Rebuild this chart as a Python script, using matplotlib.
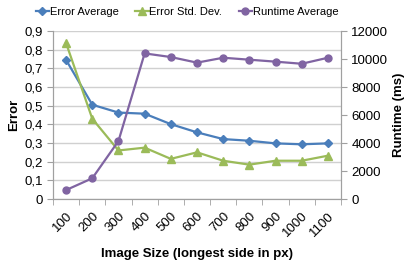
import matplotlib.pyplot as plt
from matplotlib.ticker import FuncFormatter

sizes = ['100', '200', '300', '400', '500', '600', '700', '800', '900', '1000', '1100']
error_avg = [0.745, 0.505, 0.463, 0.457, 0.401, 0.357, 0.321, 0.312, 0.298, 0.293, 0.298]
error_std = [0.835, 0.43, 0.26, 0.275, 0.215, 0.25, 0.205, 0.184, 0.205, 0.205, 0.232]
runtime_avg = [640, 1480, 4140, 10400, 10140, 9740, 10090, 9950, 9810, 9660, 10090]

plt.rcParams['font.family'] = ['Liberation Sans', 'DejaVu Sans']
plt.rcParams['font.size'] = 9.5

def main():
    fig = plt.figure(figsize=(4.11, 2.63), dpi=100)
    ax = fig.add_axes([53 / 411, 1 - 199 / 263, 288 / 411, 168 / 263])
    ax2 = ax.twinx()

    x = list(range(len(sizes)))
    l1, = ax.plot(x, error_avg, color='#4a7ebb', marker='D', markersize=4, lw=1.6, label='Error Average')
    l2, = ax.plot(x, error_std, color='#9bbb59', marker='^', markersize=5.5, lw=1.6, label='Error Std. Dev.')
    l3, = ax2.plot(x, runtime_avg, color='#8064a2', marker='o', markersize=5, lw=1.6, label='Runtime Average')

    ax.set_xlim(-0.5, len(sizes) - 0.5)
    ax.set_ylim(0, 0.9)
    ax.set_yticks([i / 10 for i in range(10)])
    ax.yaxis.set_major_formatter(FuncFormatter(lambda v, p: ('%g' % round(v, 1)).replace('.', ',')))
    ax2.set_ylim(0, 12000)
    ax2.set_yticks(range(0, 12001, 2000))

    ax.set_xticks(x)
    ax.set_xticklabels(sizes, rotation=45, ha='right', rotation_mode='anchor')
    ax.set_xticks([i - 0.5 for i in range(len(sizes) + 1)], minor=True)
    ax.tick_params(axis='x', which='major', length=0, pad=8)
    ax.tick_params(axis='x', which='minor', length=4, color='#a0a0a0')
    ax.tick_params(axis='y', length=4, color='#a0a0a0')
    ax2.tick_params(axis='y', length=4, color='#a0a0a0')

    ax.grid(axis='y', color='#d0d0d0', lw=1)
    ax.set_axisbelow(True)
    for a in (ax, ax2):
        a.spines['top'].set_visible(False)
        for s in ('left', 'right', 'bottom'):
            a.spines[s].set_color('#a0a0a0')

    ax.set_ylabel('Error', fontweight='bold', labelpad=3)
    ax2.set_ylabel('Runtime (ms)', fontweight='bold', labelpad=3)
    ax.set_xlabel('Image Size (longest side in px)', fontweight='bold', labelpad=6)

    fig.legend([l1, l2, l3], ['Error Average', 'Error Std. Dev.', 'Runtime Average'],
               loc='upper center', bbox_to_anchor=(0.455, 1.01), ncol=3, frameon=False,
               handlelength=1.2, handletextpad=0.05, columnspacing=1.5, fontsize=8)

    fig.savefig('out.png', dpi=100)

if __name__ == '__main__':
    main()
